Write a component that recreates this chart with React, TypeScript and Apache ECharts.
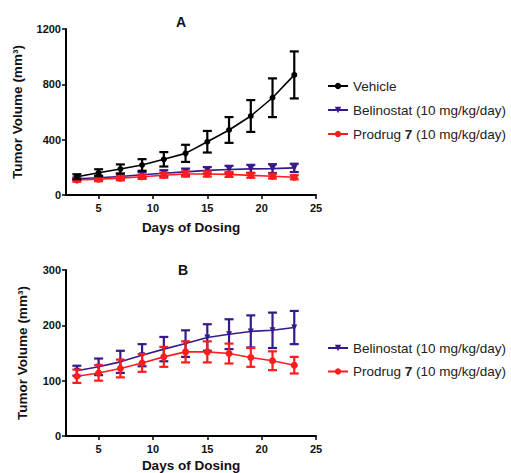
import React, { useEffect, useRef } from "react";
import * as echarts from "echarts";

const days = [3, 5, 7, 9, 11, 13, 15, 17, 19, 21, 23];
const vehicleMean = [132, 161, 188, 217, 258, 301, 385, 470, 571, 703, 868];
const vehicleErr = [18, 25, 33, 42, 52, 62, 78, 93, 115, 140, 170];
const belinoMean = [118, 125, 134, 146, 157, 167, 178, 184, 189, 191, 196];
const belinoErr = [9, 15, 20, 20, 22, 24, 24, 27, 29, 32, 30];
const prodrugMean = [108, 114, 122, 132, 143, 152, 152, 149, 142, 136, 128];
const prodrugErr = [12, 14, 16, 16, 18, 19, 19, 18, 17, 17, 15];
const xTicks = [5, 10, 15, 20, 25];

const NAME_V = "Vehicle";
const NAME_B = "Belinostat (10 mg/kg/day)";
const NAME_P = "Prodrug 7 (10 mg/kg/day)";

const BLACK = "#000000";
const PURPLE = "#36198a";
const RED = "#ff1c1c";
const FONT = "Liberation Sans, Arial, sans-serif";

function errData(mean: number[], err: number[]) {
  return days.map((d, i) => [d, mean[i] - err[i], mean[i] + err[i]]);
}

function errSeries(name: string, mean: number[], err: number[], color: string, idx: number, z: number) {
  return {
    type: "custom",
    name,
    xAxisIndex: idx,
    yAxisIndex: idx,
    z,
    silent: true,
    data: errData(mean, err),
    renderItem: (params: any, api: any) => {
      const x = api.value(0);
      const lo = api.coord([x, api.value(1)]);
      const hi = api.coord([x, api.value(2)]);
      const half = 4.5;
      const style = { stroke: color, lineWidth: 2.2 };
      return {
        type: "group",
        children: [
          { type: "line", shape: { x1: lo[0], y1: lo[1], x2: hi[0], y2: hi[1] }, style },
          { type: "line", shape: { x1: lo[0] - half, y1: lo[1], x2: lo[0] + half, y2: lo[1] }, style },
          { type: "line", shape: { x1: hi[0] - half, y1: hi[1], x2: hi[0] + half, y2: hi[1] }, style },
        ],
      };
    },
  };
}

function lineSeries(name: string, mean: number[], color: string, symbol: string, size: number, idx: number, z: number) {
  return {
    type: "line",
    name,
    xAxisIndex: idx,
    yAxisIndex: idx,
    z,
    data: days.map((d, i) => [d, mean[i]]),
    symbol,
    symbolSize: size,
    symbolRotate: symbol === "triangle" ? 180 : 0,
    showSymbol: true,
    lineStyle: { color, width: 1.6 },
    itemStyle: { color, borderWidth: 0 },
  };
}

function xAxisCfg(gridIndex: number, nameGap: number) {
  return {
    type: "value",
    gridIndex,
    min: 2,
    max: 25,
    name: "Days of Dosing",
    nameLocation: "middle",
    nameGap,
    nameTextStyle: { fontFamily: FONT, fontWeight: "bold", fontSize: 13.5, color: "#111" },
    axisLine: { show: true, lineStyle: { color: BLACK, width: 2 } },
    axisTick: { show: true, length: 4, lineStyle: { color: BLACK, width: 1.5 }, customValues: xTicks },
    axisLabel: { fontFamily: FONT, fontWeight: "bold", fontSize: 11, color: "#111", margin: 7, customValues: xTicks },
    splitLine: { show: false },
  };
}

function yAxisCfg(gridIndex: number, max: number, interval: number, nameGap: number) {
  return {
    type: "value",
    gridIndex,
    min: 0,
    max,
    interval,
    name: "Tumor Volume (mm³)",
    nameLocation: "middle",
    nameGap,
    nameTextStyle: { fontFamily: FONT, fontWeight: "bold", fontSize: 13.5, color: "#111" },
    axisLine: { show: true, lineStyle: { color: BLACK, width: 2 } },
    axisTick: { show: true, length: 4, lineStyle: { color: BLACK, width: 1.5 } },
    axisLabel: { fontFamily: FONT, fontWeight: "bold", fontSize: 11, color: "#111", margin: 5, formatter: (v: number) => String(v) },
    splitLine: { show: false },
  };
}

const legendText = {
  fontFamily: FONT,
  fontSize: 13.5,
  color: "#222",
  rich: { b: { fontFamily: FONT, fontSize: 13.5, fontWeight: "bold", color: "#222" } },
};
const legendFormatter = (n: string) => (n === NAME_P ? "Prodrug {b|7} (10 mg/kg/day)" : n);

export default function App() {
  const ref = useRef<HTMLDivElement>(null);
  useEffect(() => {
    if (!ref.current) return;
    const chart = echarts.init(ref.current, null, { renderer: "svg" });
    chart.setOption({
      animation: false,
      backgroundColor: "#ffffff",
      graphic: [
        { type: "text", x: 181, y: 22, style: { text: "A", font: `bold 14px ${FONT}`, fill: "#111", textAlign: "center", textVerticalAlign: "middle" } },
        { type: "text", x: 183, y: 270, style: { text: "B", font: `bold 14px ${FONT}`, fill: "#111", textAlign: "center", textVerticalAlign: "middle" } },
      ],
      legend: [
        {
          orient: "vertical",
          left: 322,
          top: 74,
          itemWidth: 20,
          itemHeight: 8,
          itemGap: 10,
          data: [NAME_V, NAME_B, NAME_P],
          textStyle: legendText,
          formatter: legendFormatter,
          selectedMode: false,
        },
        {
          orient: "vertical",
          left: 322,
          top: 336,
          itemWidth: 20,
          itemHeight: 8,
          itemGap: 9.5,
          data: [NAME_B, NAME_P],
          textStyle: legendText,
          formatter: legendFormatter,
          selectedMode: false,
        },
      ],
      grid: [
        { left: 66, width: 250, top: 29, height: 166, containLabel: false },
        { left: 66, width: 250, top: 270, height: 166, containLabel: false },
      ],
      xAxis: [xAxisCfg(0, 25), xAxisCfg(1, 22)],
      yAxis: [yAxisCfg(0, 1200, 400, 42), yAxisCfg(1, 300, 100, 37)],
      series: [
        lineSeries(NAME_B, belinoMean, PURPLE, "triangle", 7, 0, 3),
        lineSeries(NAME_P, prodrugMean, RED, "circle", 7, 0, 4),
        lineSeries(NAME_V, vehicleMean, BLACK, "circle", 6, 0, 5),
        errSeries("errB0", belinoMean, belinoErr, PURPLE, 0, 3),
        errSeries("errP0", prodrugMean, prodrugErr, RED, 0, 4),
        errSeries("errV0", vehicleMean, vehicleErr, BLACK, 0, 5),
        lineSeries(NAME_B, belinoMean, PURPLE, "triangle", 6, 1, 3),
        lineSeries(NAME_P, prodrugMean, RED, "circle", 7, 1, 4),
        errSeries("errB1", belinoMean, belinoErr, PURPLE, 1, 3),
        errSeries("errP1", prodrugMean, prodrugErr, RED, 1, 4),
      ],
    });
    return () => chart.dispose();
  }, []);
  return <div ref={ref} style={{ position: "absolute", left: 0, top: 0, width: 511, height: 473 }} />;
}
